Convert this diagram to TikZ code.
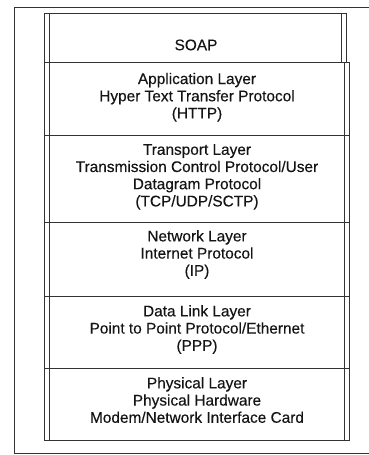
\documentclass[tikz,border=0pt]{standalone}
\usepackage{fontspec}
\setmainfont{Liberation Sans}
\newfontfamily\layerfont{Liberation Sans}[FakeBold=0.3]
\begin{document}
\begin{tikzpicture}[x=1pt,y=-1pt,
  rule/.style={line width=0.85pt,draw=black!80},
  label/.style={anchor=north,inner sep=0pt,align=center,text=black!92,
    font=\layerfont\fontsize{15.4}{17.2}\selectfont}]
\useasboundingbox (0,0) rectangle (369,455);
% outer frame (right side runs off the page)
\draw[rule] (369,7) -- (14,7) -- (14,453) -- (369,453);
% column of layers: double left edge
\draw[rule] (44,13) -- (44,440);
\draw[rule] (49,13) -- (49,440);
% SOAP block with its own double right edge
\draw[rule] (44,13) -- (347,13);
\draw[rule] (341.7,13) -- (341.7,62);
\draw[rule] (346.7,13) -- (346.7,62);
% protocol layers with double right edge
\draw[rule] (344.3,62) -- (344.3,440);
\draw[rule] (349.3,62) -- (349.3,440);
\foreach \y in {62,135,222,296,368,440}
  \draw[rule] (44,\y) -- (350,\y);
% layer texts
\node[label] (soap) at (196,39.3) {SOAP};
\node[label] (app) at (197,72.7) {Application Layer\\Hyper Text Transfer Protocol\\(HTTP)};
\node[label] (trans) at (197,144) {Transport Layer\\Transmission Control Protocol/User\\Datagram Protocol\\(TCP/UDP/SCTP)};
\node[label] (net) at (197,230) {Network Layer\\Internet Protocol\\(IP)};
\node[label] (link) at (197,305) {Data Link Layer\\Point to Point Protocol/Ethernet\\(PPP)};
\node[label] (phys) at (197,377) {Physical Layer\\Physical Hardware\\Modem/Network Interface Card};
\end{tikzpicture}
\end{document}
